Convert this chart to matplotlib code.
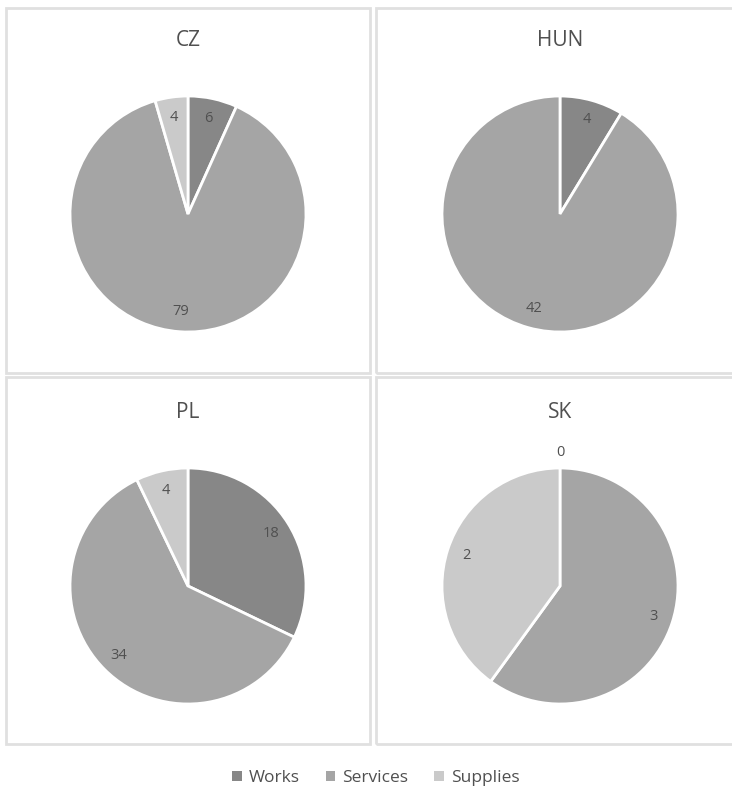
import numpy as np
import matplotlib.pyplot as plt
from matplotlib.patches import Rectangle

plt.rcParams['font.family'] = ['Open Sans', 'DejaVu Sans']

countries = ['CZ', 'HUN', 'PL', 'SK']
categories = ['Works', 'Services', 'Supplies']
works = [6, 4, 18, 0]
services = [79, 42, 34, 3]
supplies = [4, None, 4, 2]   # HUN has no supplies value shown

colors = ['#878787', '#a5a5a5', '#cacaca']
txt = '#505050'

W, H = 732, 792
fig = plt.figure(figsize=(W / 100, H / 100), dpi=100)

# panel frames in pixels: left, top, right, bottom
panels = [(6, 8, 370, 373), (376, 8, 740, 373), (6, 377, 370, 744), (376, 377, 740, 744)]
centers = [(188, 214), (560, 214), (188, 586), (560, 586)]
R = 118

for i, name in enumerate(countries):
    l, t, r, b = panels[i]
    fig.patches.append(Rectangle((l / W, 1 - b / H), (r - l) / W, (b - t) / H,
                                 transform=fig.transFigure, fill=False,
                                 edgecolor='#e0e0e0', linewidth=2))
    cx, cy = centers[i]
    ax = fig.add_axes([(cx - R) / W, 1 - (cy + R) / H, 2 * R / W, 2 * R / H])
    vals = [works[i], services[i], supplies[i]]
    keep = [k for k, v in enumerate(vals) if v is not None]
    v = [vals[k] for k in keep]
    wedges, _ = ax.pie(v, colors=[colors[k] for k in keep], startangle=90,
                       counterclock=False, radius=1,
                       wedgeprops=dict(edgecolor='white', linewidth=2))
    for w, val in zip(wedges, v):
        mid = np.deg2rad((w.theta1 + w.theta2) / 2)
        d = 1.13 if val == 0 else 0.83
        ax.text(d * np.cos(mid), d * np.sin(mid), str(val), ha='center', va='center',
                fontsize=10.5, color=txt)
    ax.set_xlim(-1, 1)
    ax.set_ylim(-1, 1)
    ax.set_aspect('equal')
    ax.axis('off')
    fig.text(cx / W, 1 - (cy - 174) / H, name, ha='center', va='center',
             fontsize=15, color=txt)

handles = [Rectangle((0, 0), 1, 1, facecolor=c) for c in colors]
fig.legend(handles, categories, loc='center', bbox_to_anchor=(376 / W, 1 - 778 / H),
           ncol=3, frameon=False, fontsize=12.5, handlelength=0.55, handleheight=0.55,
           handletextpad=0.4, columnspacing=1.5, labelcolor=txt)

fig.savefig('out.png', dpi=100, facecolor='white')
